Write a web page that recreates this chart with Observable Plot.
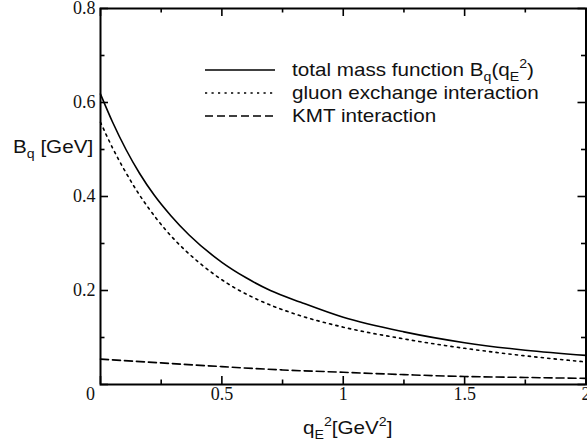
<!DOCTYPE html>
<html><head><meta charset="utf-8">
<script src="https://cdn.jsdelivr.net/npm/d3@7"></script>
<script src="https://cdn.jsdelivr.net/npm/@observablehq/plot@0.6"></script>
<style>
body{margin:0;background:#fff}
#chart{position:relative;width:587px;height:445px}
</style>
</head><body><div id="chart"></div>
<script>
// ---- data ----
const totalX = [0, 0.05, 0.105, 0.16, 0.221, 0.29, 0.365, 0.5, 0.6, 0.7, 0.825, 1.0, 1.25, 1.5, 1.75, 2.0];
const totalY = [0.618, 0.558, 0.5, 0.45, 0.403, 0.359, 0.318, 0.26, 0.227, 0.2, 0.175, 0.143, 0.112, 0.089, 0.073, 0.062];
const gluonX = [0, 0.05, 0.1, 0.146, 0.2, 0.27, 0.35, 0.4, 0.523, 0.65, 0.784, 1.0, 1.25, 1.5, 1.75, 2.0];
const gluonY = [0.558, 0.503, 0.455, 0.415, 0.374, 0.328, 0.285, 0.262, 0.215, 0.18, 0.153, 0.122, 0.097, 0.077, 0.061, 0.048];
const kmtX = [0, 0.25, 0.5, 0.75, 1.0, 1.25, 1.5, 1.75, 2.0];
const kmtY = [0.054, 0.046, 0.038, 0.031, 0.026, 0.021, 0.017, 0.015, 0.013];
const seriesNames = ["total mass function", "gluon exchange interaction", "KMT interaction"];
const xMajor = [0, 0.5, 1, 1.5, 2];
const xMinor = [0.25, 0.75, 1.25, 1.75];
const yMajor = [0, 0.2, 0.4, 0.6, 0.8];
const yMinor = [0.1, 0.3, 0.5, 0.7];
const xTickLabels = [0.5, 1, 1.5, 2];
const yTickLabels = [0.2, 0.4, 0.6, 0.8];

// ---- layout ----
const W = 587, H = 445;
const mL = 100, mR = 1.5, mT = 8, mB = 61;
const plotW = W - mL - mR, plotH = H - mT - mB;
const majLen = 8, minLen = 4.5;

const rows = [];
totalX.forEach((x, i) => rows.push({s: seriesNames[0], x, y: totalY[i]}));
gluonX.forEach((x, i) => rows.push({s: seriesNames[1], x, y: gluonY[i]}));
kmtX.forEach((x, i) => rows.push({s: seriesNames[2], x, y: kmtY[i]}));
const dashes = {[seriesNames[0]]: null, [seriesNames[1]]: "2.2,4.3", [seriesNames[2]]: "8,4"};

const marks = [];
for (const s of seriesNames) {
  marks.push(Plot.line(rows.filter(d => d.s === s), {
    x: "x", y: "y", curve: "monotone-x", stroke: "black", strokeWidth: 1.6,
    strokeDasharray: dashes[s] || undefined
  }));
}
marks.push(
  Plot.tickX(xMajor, {x: d => d, stroke: "black", strokeWidth: 1.6, insetTop: plotH - majLen}),
  Plot.tickX(xMinor, {x: d => d, stroke: "black", strokeWidth: 1.6, insetTop: plotH - minLen}),
  Plot.tickX(xMajor, {x: d => d, stroke: "black", strokeWidth: 1.6, insetBottom: plotH - majLen}),
  Plot.tickX(xMinor, {x: d => d, stroke: "black", strokeWidth: 1.6, insetBottom: plotH - minLen}),
  Plot.tickY(yMajor, {y: d => d, stroke: "black", strokeWidth: 1.6, insetRight: plotW - majLen}),
  Plot.tickY(yMinor, {y: d => d, stroke: "black", strokeWidth: 1.6, insetRight: plotW - minLen}),
  Plot.tickY(yMajor, {y: d => d, stroke: "black", strokeWidth: 1.6, insetLeft: plotW - majLen}),
  Plot.tickY(yMinor, {y: d => d, stroke: "black", strokeWidth: 1.6, insetLeft: plotW - minLen}),
  Plot.frame({stroke: "black", strokeWidth: 2}),
  Plot.axisX(xTickLabels, {tickSize: 0, tickPadding: 3, label: null, tickFormat: d => String(d), fill: "#111"}),
  Plot.axisY(yTickLabels, {tickSize: 0, tickPadding: 5, label: null, tickFormat: d => d.toFixed(1), fill: "#111"}),
  Plot.text([0], {x: d => d, y: d => d, text: d => String(d), dx: -10, dy: 10, fill: "#111"})
);

const svg = Plot.plot({
  width: W, height: H,
  marginLeft: mL, marginRight: mR, marginTop: mT, marginBottom: mB,
  x: {domain: [0, 2], axis: null},
  y: {domain: [0, 0.8], axis: null},
  style: {fontFamily: "'Liberation Serif', 'Times New Roman', serif", fontSize: "18px", background: "white", overflow: "hidden"},
  marks
});
document.getElementById("chart").appendChild(svg);

// ---- rich sans text (labels, legend) ----
const SANS = "'Liberation Sans', Arial, Helvetica, sans-serif";
const STRETCH = 1.18;
function rich(x, y, parts, size = 17.5) {
  const g = d3.select(svg).append("g")
    .attr("transform", `translate(${x},${y}) scale(${STRETCH},1)`);
  const t = g.append("text").attr("x", 0).attr("y", 0)
    .attr("text-anchor", "start")
    .attr("font-family", SANS).attr("font-size", size).attr("fill", "#111");
  let cur = 0;
  for (const p of parts) {
    const shift = p.sub ? 5 : p.sup ? -8 : 0;
    t.append("tspan").attr("dy", shift - cur)
      .attr("font-size", (p.sub || p.sup) ? 12 : size).text(p.t);
    cur = shift;
  }
  return g;
}
rich(13, 153, [{t: "B"}, {t: "q", sub: true}, {t: " [GeV]"}]);
rich(303, 434, [{t: "q"}, {t: "E", sub: true}, {t: "2", sup: true}, {t: "[GeV"}, {t: "2", sup: true}, {t: "]"}]);

const legendRows = [70, 93, 116];
const legendTexts = [
  [{t: "total mass function B"}, {t: "q", sub: true}, {t: "(q"}, {t: "E", sub: true}, {t: "2", sup: true}, {t: ")"}],
  [{t: seriesNames[1]}],
  [{t: seriesNames[2]}]
];
seriesNames.forEach((s, i) => {
  const yy = legendRows[i];
  const ln = d3.select(svg).append("line")
    .attr("x1", 205).attr("x2", 275).attr("y1", yy).attr("y2", yy)
    .attr("stroke", "black").attr("stroke-width", 1.6);
  if (dashes[s]) ln.attr("stroke-dasharray", dashes[s]);
  rich(292, yy + 5.7, legendTexts[i]);
});
</script>
</body></html>
